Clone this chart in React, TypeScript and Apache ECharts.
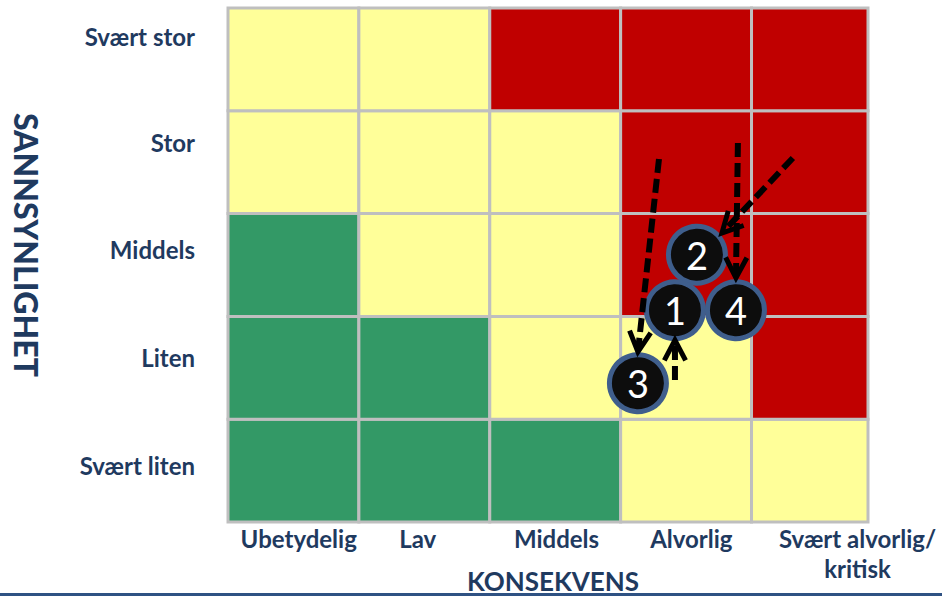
import React, { useEffect, useRef } from 'react';
import * as echarts from 'echarts';

// Axis categories
const consequenceLabels = ['Ubetydelig', 'Lav', 'Middels', 'Alvorlig', 'Svært alvorlig/\nkritisk'];
const likelihoodLabels = ['Svært liten', 'Liten', 'Middels', 'Stor', 'Svært stor'];

// Risk level per cell, row 0 = "Svært liten", column 0 = "Ubetydelig"
// 0 = low (green), 1 = medium (yellow), 2 = high (red)
const riskSvaertLiten = [0, 0, 0, 1, 1];
const riskLiten = [0, 0, 1, 1, 2];
const riskMiddels = [0, 1, 1, 2, 2];
const riskStor = [1, 1, 1, 2, 2];
const riskSvaertStor = [1, 1, 2, 2, 2];
const riskRows = [riskSvaertLiten, riskLiten, riskMiddels, riskStor, riskSvaertStor];
const riskColors = ['#339966', '#FFFF99', '#C00000'];

// Risks (current position, in consequence / likelihood units)
const riskIds = ['2', '1', '4', '3'];
const riskX = [3.583, 3.415, 3.881, 3.132];
const riskY = [2.6, 2.06, 2.06, 1.35];

// Movement arrows (from previous position to current)
const arrowFromX = [3.415, 4.316, 3.293, 3.896];
const arrowFromY = [1.381, 3.541, 3.531, 3.687];
const arrowToX = [3.415, 3.774, 3.132, 3.881];
const arrowToY = [1.77, 2.811, 1.654, 2.374];

// Label anchor positions along the axes
const xLabelAt = [0.54, 1.45, 2.51, 3.54, 4.81];
const yLabelAt = [0.545, 1.6, 2.65, 3.69, 4.72];

const navy = '#1F3A5F';
const font = 'Lato, "Open Sans", sans-serif';

export default function App() {
  const ref = useRef<HTMLDivElement>(null);

  useEffect(() => {
    if (!ref.current) return;
    const chart = echarts.init(ref.current, null, { renderer: 'svg' });

    const cellData: number[][] = [];
    riskRows.forEach((row, r) => row.forEach((lvl, c) => cellData.push([c, r, lvl])));

    const nearest = (arr: number[], v: number) => {
      let best = 0;
      arr.forEach((a, i) => {
        if (Math.abs(a - v) < Math.abs(arr[best] - v)) best = i;
      });
      return best;
    };

    chart.setOption({
      animation: false,
      grid: { left: 228, right: 74, top: 8, bottom: 77 },
      xAxis: {
        type: 'value',
        min: 0,
        max: 4.89,
        axisLine: { show: false },
        axisTick: { show: false },
        splitLine: { show: false },
        axisLabel: {
          customValues: xLabelAt,
          formatter: (v: number) => consequenceLabels[nearest(xLabelAt, v)],
          margin: 1,
          color: navy,
          fontFamily: font,
          fontWeight: 'bold',
          fontSize: 24,
          lineHeight: 30,
          align: 'center',
        },
      },
      yAxis: {
        type: 'value',
        min: 0,
        max: 5,
        axisLine: { show: false },
        axisTick: { show: false },
        splitLine: { show: false },
        axisLabel: {
          customValues: yLabelAt,
          formatter: (v: number) => likelihoodLabels[nearest(yLabelAt, v)],
          margin: 33,
          color: navy,
          fontFamily: font,
          fontWeight: 'bold',
          fontSize: 24,
        },
      },
      graphic: [
        {
          type: 'text',
          x: 26,
          y: 245,
          rotation: -Math.PI / 2,
          style: {
            text: 'SANNSYNLIGHET',
            fill: navy,
            font: `900 32px ${font}`,
            align: 'center',
            verticalAlign: 'middle',
          },
        },
        {
          type: 'text',
          x: 553,
          y: 581,
          style: {
            text: 'KONSEKVENS',
            fill: navy,
            font: `bold 26px ${font}`,
            align: 'center',
            verticalAlign: 'middle',
          },
        },
        {
          type: 'rect',
          shape: { x: 0, y: 593, width: 942, height: 3 },
          style: { fill: '#2F5283' },
        },
      ],
      series: [
        {
          type: 'custom',
          z: 1,
          data: cellData,
          renderItem: (params: any, api: any) => {
            const c = api.value(0);
            const r = api.value(1);
            const p0 = api.coord([c, r + 1]);
            const p1 = api.coord([c + 1, r]);
            const rect = echarts.graphic.clipRectByRect(
              { x: p0[0], y: p0[1], width: p1[0] - p0[0], height: p1[1] - p0[1] },
              params.coordSys as any
            );
            if (!rect) return null;
            return {
              type: 'rect',
              shape: rect,
              style: { fill: riskColors[api.value(2)], stroke: '#BFBFBF', lineWidth: 3 },
            };
          },
        },
        {
          type: 'scatter',
          z: 3,
          symbol: 'circle',
          symbolSize: 57,
          data: riskIds.map((id, i) => ({ value: [riskX[i], riskY[i]], name: id })),
          itemStyle: { color: '#0D0D0D', borderColor: '#3F5E8C', borderWidth: 5, opacity: 1 },
          label: {
            show: true,
            position: 'inside',
            formatter: (p: any) => p.name,
            color: '#FFFFFF',
            fontFamily: font,
            fontSize: 38,
          },
        },
        {
          type: 'custom',
          z: 4,
          data: arrowFromX.map((x, i) => [x, arrowFromY[i], arrowToX[i], arrowToY[i]]),
          renderItem: (params: any, api: any) => {
            const a = api.coord([api.value(0), api.value(1)]);
            const b = api.coord([api.value(2), api.value(3)]);
            const ang = Math.atan2(b[1] - a[1], b[0] - a[0]);
            const L = 23;
            const spread = 0.48;
            const h1 = [b[0] - L * Math.cos(ang - spread), b[1] - L * Math.sin(ang - spread)];
            const h2 = [b[0] - L * Math.cos(ang + spread), b[1] - L * Math.sin(ang + spread)];
            const e = [b[0] - 5 * Math.cos(ang), b[1] - 5 * Math.sin(ang)];
            return {
              type: 'group',
              children: [
                {
                  type: 'line',
                  shape: { x1: a[0], y1: a[1], x2: e[0], y2: e[1] },
                  style: { stroke: '#000', lineWidth: 6, lineDash: [14, 6] },
                },
                {
                  type: 'polyline',
                  shape: { points: [h1, b, h2] },
                  style: { stroke: '#000', lineWidth: 5, fill: null },
                },
              ],
            };
          },
        },
      ],
    });

    return () => chart.dispose();
  }, []);

  return (
    <div
      ref={ref}
      style={{ position: 'fixed', left: 0, top: 0, width: 942, height: 599, background: '#fff' }}
    />
  );
}
